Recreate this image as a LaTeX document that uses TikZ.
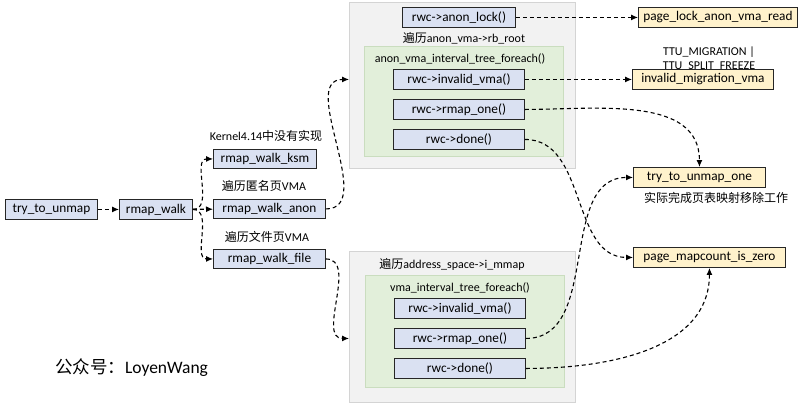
\documentclass[tikz,border=0pt]{standalone}
\usepackage{fontspec}
\setmainfont{Carlito}
\newfontfamily\cjk{Noto Sans CJK SC}
\usetikzlibrary{arrows.meta}
\definecolor{boxblue}{HTML}{DAE1F2}
\definecolor{boxyellow}{HTML}{FFF2CC}
\definecolor{contgray}{HTML}{F2F2F2}
\definecolor{contline}{HTML}{D4D4D4}
\definecolor{greenfill}{HTML}{E2EFDA}
\definecolor{greenline}{HTML}{CADDBF}
\begin{document}
\begin{tikzpicture}[x=1pt,y=-1pt,
  fbox/.style={draw=black!85,line width=0.9pt,fill=boxblue,inner sep=0pt,font=\fontsize{13.3}{15}\selectfont,anchor=north west},
  ybox/.style={draw=black!85,line width=0.9pt,fill=boxyellow,inner sep=0pt,font=\fontsize{13.3}{15}\selectfont,anchor=north west},
  cont/.style={draw=contline,line width=0.8pt,fill=contgray,inner sep=0pt,anchor=north west},
  grn/.style={draw=greenline,line width=0.8pt,fill=greenfill,inner sep=0pt,anchor=north west},
  lbl/.style={inner sep=0pt,font=\fontsize{12}{14}\selectfont},
  conn/.style={dashed,dash pattern=on 4pt off 3pt,line width=1.1pt,-{Latex[length=7pt,width=6pt]}}
]
\useasboundingbox (0,0) rectangle (811,410);
% containers
\node[cont,minimum width=226pt,minimum height=166pt] (topc) at (349,2) {};
\node[grn,minimum width=199pt,minimum height=110pt] (topg) at (364,46) {};
\node[cont,minimum width=226pt,minimum height=151pt] (botc) at (349,251) {};
\node[grn,minimum width=199pt,minimum height=112pt] (botg) at (365,275) {};
% left chain
\node[fbox,minimum width=92pt,minimum height=20pt] (ttu) at (5,199) {try\_to\_unmap};
\node[fbox,minimum width=73pt,minimum height=20pt] (rw) at (119,199) {rmap\_walk};
\node[fbox,minimum width=103pt,minimum height=19pt] (ksm) at (213,149) {rmap\_walk\_ksm};
\node[fbox,minimum width=112pt,minimum height=19pt] (anon) at (213,199) {rmap\_walk\_anon};
\node[fbox,minimum width=112pt,minimum height=19pt] (file) at (213,249) {rmap\_walk\_file};
\node[lbl] (lksm) at (266,136) {Kernel4.14{\cjk 中没有实现}};
\node[lbl] (lanon) at (264,186) {{\cjk 遍历匿名页}VMA};
\node[lbl] (lfile) at (267,237) {{\cjk 遍历文件页}VMA};
% top container contents
\node[fbox,minimum width=113pt,minimum height=20pt] (alock) at (402,7) {rwc->anon\_lock()};
\node[lbl] (lroot) at (464,38) {{\cjk 遍历}anon\_vma->rb\_root};
\node[lbl] (lafe) at (460,59) {anon\_vma\_interval\_tree\_foreach()};
\node[fbox,minimum width=131pt,minimum height=20pt] (tinv) at (393,69) {rwc->invalid\_vma()};
\node[fbox,minimum width=131pt,minimum height=20pt] (tone) at (393,99) {rwc->rmap\_one()};
\node[fbox,minimum width=131pt,minimum height=20pt] (tdone) at (393,129) {rwc->done()};
% bottom container contents
\node[lbl] (lmmap) at (452,264) {{\cjk 遍历}address\_space->i\_mmap};
\node[lbl] (lvfe) at (460,288) {vma\_interval\_tree\_foreach()};
\node[fbox,minimum width=131pt,minimum height=20pt] (binv) at (394,298) {rwc->invalid\_vma()};
\node[fbox,minimum width=131pt,minimum height=20pt] (bone) at (394,328) {rwc->rmap\_one()};
\node[fbox,minimum width=131pt,minimum height=20pt] (bdone) at (394,358) {rwc->done()};
% right side
\node[ybox,minimum width=159pt,minimum height=20pt] (plav) at (638,7) {page\_lock\_anon\_vma\_read};
\node[lbl,align=center] (lttu) at (709,58.5) {TTU\_MIGRATION |\\TTU\_SPLIT\_FREEZE};
\node[ybox,minimum width=141pt,minimum height=20pt] (imv) at (632,69) {invalid\_migration\_vma};
\node[ybox,minimum width=132pt,minimum height=20pt] (tuo) at (633,167) {try\_to\_unmap\_one};
\node[lbl] (ltuo) at (716,198) {\cjk 实际完成页表映射移除工作};
\node[ybox,minimum width=152pt,minimum height=20pt] (pmz) at (633,247) {page\_mapcount\_is\_zero};
\node[inner sep=0pt,font=\fontsize{17.5}{19}\selectfont] (pub) at (131.5,368) {{\cjk 公众号：}LoyenWang};
% connectors
\coordinate (tin) at (topc.west |- tinv.west);
\coordinate (bin) at (botc.west |- bone.west);
\draw[conn] (ttu) -- (rw);
\draw[conn] (rw) -- (anon);
\draw[conn] (rw.east) to[out=0,in=180] (ksm.west);
\draw[conn] (rw.east) to[out=0,in=180] (file.west);
\draw[conn] (anon.east) to[out=0,in=180] (tin);
\draw[conn] (file.east) to[out=0,in=180] (bin);
\draw[conn] (alock) -- (plav);
\draw[conn] (tinv) -- (imv);
\draw[conn] (tone.east) to[out=0,in=90] (tuo.north);
\draw[conn] (tdone.east) to[out=0,in=180] (pmz.west);
\draw[conn] (bone.east) to[out=0,in=180] (tuo.west);
\draw[conn] (bdone.east) to[out=0,in=-90] (pmz.south);
\end{tikzpicture}
\end{document}
